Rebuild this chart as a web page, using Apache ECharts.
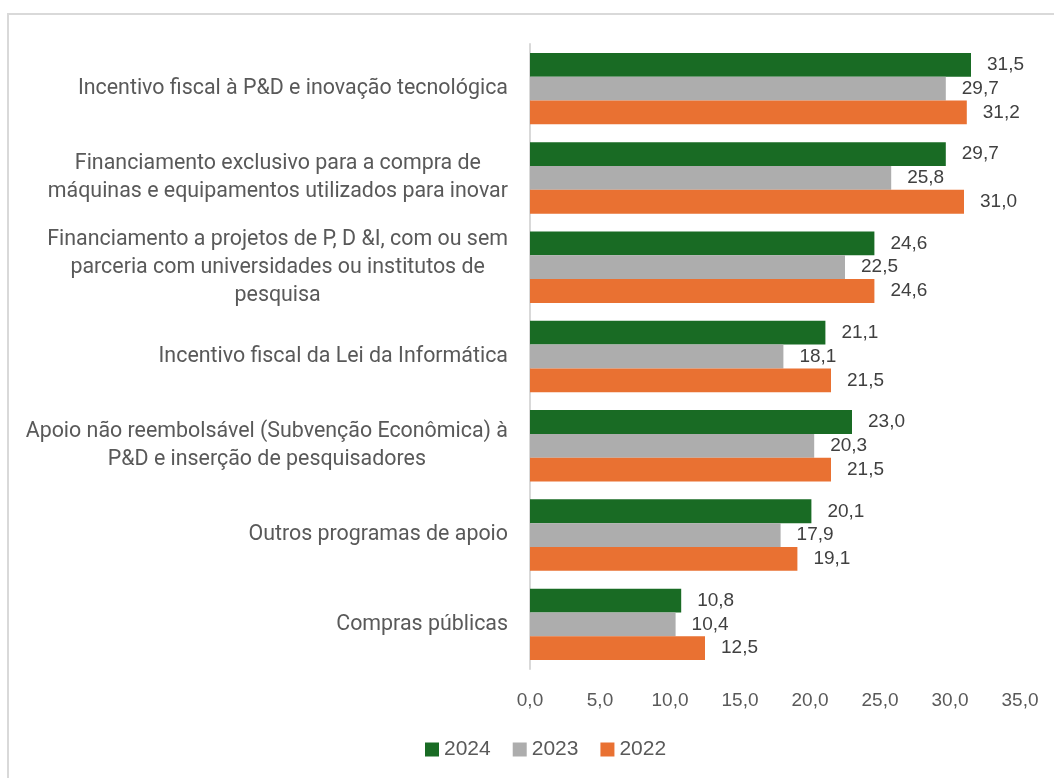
<!DOCTYPE html>
<html><head><meta charset="utf-8">
<script src="https://cdn.jsdelivr.net/npm/echarts@6/dist/echarts.min.js"></script>
<style>
html,body{margin:0;padding:0;background:#fff;}
#frame{position:absolute;left:7px;top:13px;width:1100px;height:800px;border:2px solid #d9d9d9;box-sizing:border-box;}
#chart{position:absolute;left:0;top:0;width:1054px;height:778px;}
</style></head>
<body>
<div id="frame"></div>
<div id="chart"></div>
<script>
const categories = [
  'Incentivo fiscal à P&D e inovação tecnológica',
  'Financiamento exclusivo para a compra de\nmáquinas e equipamentos utilizados para inovar',
  'Financiamento a projetos de P, D &I, com ou sem\nparceria com universidades ou institutos de\npesquisa',
  'Incentivo fiscal da Lei da Informática',
  'Apoio não reembolsável (Subvenção Econômica) à\nP&D e inserção de pesquisadores',
  'Outros programas de apoio',
  'Compras públicas'
];
const seriesNames = ['2024', '2023', '2022'];
const values2024 = [31.5, 29.7, 24.6, 21.1, 23.0, 20.1, 10.8];
const values2023 = [29.7, 25.8, 22.5, 18.1, 20.3, 17.9, 10.4];
const values2022 = [31.2, 31.0, 24.6, 21.5, 21.5, 19.1, 12.5];
const xTicks = [0, 5, 10, 15, 20, 25, 30, 35];

const colors = ['#196b24', '#adadad', '#e97132'];
const fmt = v => v.toFixed(1).replace('.', ',');
const numFont = '"Liberation Sans", Arial, sans-serif';

function mkSeries(name, data, color) {
  return {
    name: name, type: 'bar', data: data, barWidth: 23.8, barGap: '0%',
    itemStyle: { color: color },
    label: {
      show: true, position: 'right', distance: 16,
      formatter: p => fmt(p.value),
      fontFamily: numFont, fontSize: 19, color: '#404040'
    },
    emphasis: { disabled: true }
  };
}

const chart = echarts.init(document.getElementById('chart'));
chart.setOption({
  animation: false,
  color: colors,
  grid: { left: 530, right: 34, top: 44, bottom: 109, containLabel: false },
  xAxis: {
    type: 'value', min: xTicks[0], max: xTicks[xTicks.length - 1], interval: 5,
    axisLine: { show: false }, axisTick: { show: false }, splitLine: { show: false },
    axisLabel: { formatter: v => fmt(v), fontFamily: numFont, fontSize: 19, color: '#595959', margin: 22 }
  },
  yAxis: {
    type: 'category', data: categories, inverse: true,
    axisLine: { show: true, lineStyle: { color: '#d9d9d9', width: 2 } },
    axisTick: { show: false },
    axisLabel: {
      margin: 22, align: 'right',
      formatter: v => '{a|' + v.split('\n').join('}\n{a|') + '}',
      rich: { a: { align: 'center', fontFamily: 'Roboto, sans-serif', fontSize: 21.4, color: '#595959', lineHeight: 28 } }
    }
  },
  legend: {
    data: seriesNames, bottom: 13, left: 420,
    itemWidth: 14, itemHeight: 14, itemGap: 22, icon: 'rect',
    textStyle: { fontFamily: numFont, fontSize: 21, color: '#595959' }
  },
  series: [
    mkSeries(seriesNames[0], values2024, colors[0]),
    mkSeries(seriesNames[1], values2023, colors[1]),
    mkSeries(seriesNames[2], values2022, colors[2])
  ]
});
</script>
</body></html>
